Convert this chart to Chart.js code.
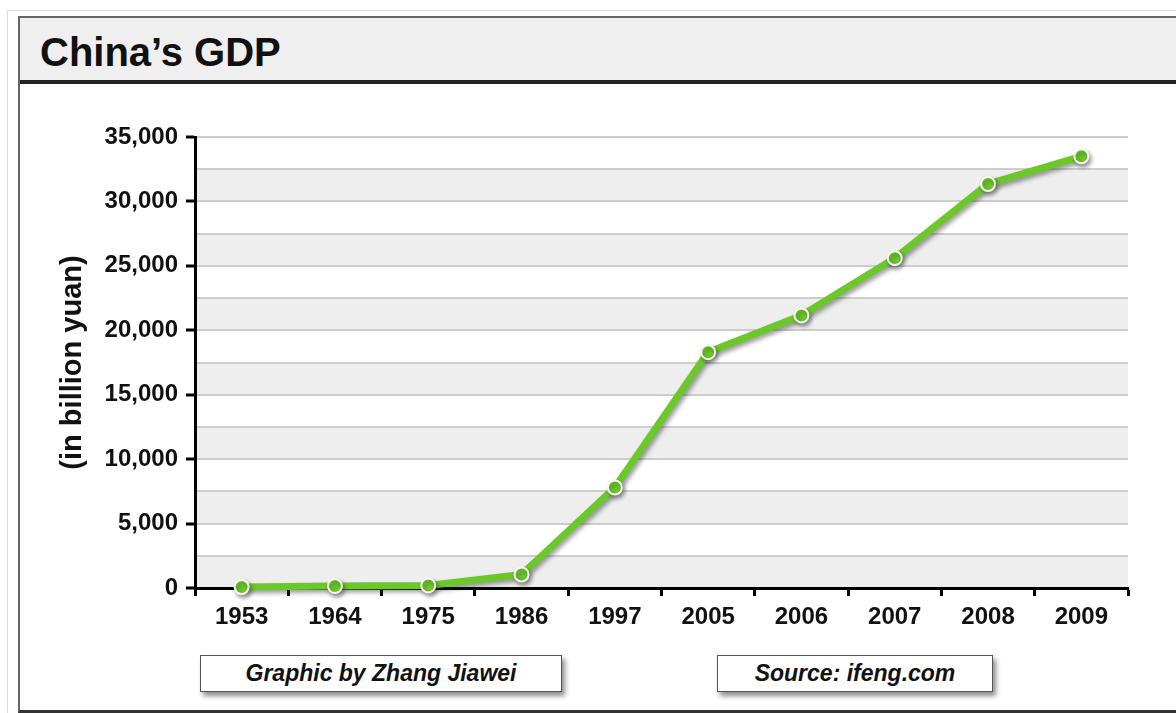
<!DOCTYPE html>
<html>
<head>
<meta charset="utf-8">
<title>China's GDP</title>
<script src="https://cdn.jsdelivr.net/npm/chart.js@4.4.1/dist/chart.umd.min.js"></script>
<style>
    html, body { margin: 0; padding: 0; background: #fff; }
    body { width: 1176px; height: 713px; position: relative; overflow: hidden; font-family: 'Liberation Sans', Arial, sans-serif; }
    .outer { position: absolute; left: 7px; top: 10px; width: 1200px; height: 720px; border-left: 1px solid #dcdcdc; border-top: 1px solid #dcdcdc; }
    .frame { position: absolute; left: 18px; top: 16px; width: 1200px; height: 692px; border-left: 2px solid #666; border-top: 2px solid #666; border-bottom: 3px solid #333; }
    .title-bar { position: absolute; left: 20px; top: 18px; width: 1200px; height: 62px; background: #efefef; border-bottom: 4px solid #222; }
    .title-bar h1 { margin: 0; position: absolute; left: 20px; top: 12px; font-size: 40px; font-weight: bold; color: #111; }
    .note { position: absolute; top: 655px; height: 35px; line-height: 35px; background: #fff; border: 1px solid #555; box-shadow: 3px 4px 5px rgba(0,0,0,0.45); text-align: center; font-size: 23px; font-weight: bold; font-style: italic; color: #111; }
    #chart-gdp { position: absolute; left: 0; top: 0; }
</style>
</head>
<body>
<div class="outer"></div>
<div class="frame"></div>
<div class="title-bar"><h1>China’s GDP</h1></div>
<div class="note" style="left:200px; width:360px;">Graphic by Zhang Jiawei</div>
<div class="note" style="left:717px; width:274px;">Source: ifeng.com</div>
<canvas id="chart-gdp" width="1176" height="713"></canvas>
<script>
'use strict';
// GDP by year, billion yuan
var years = ['1953', '1964', '1975', '1986', '1997', '2005', '2006', '2007', '2008', '2009'];
var gdp = [80, 150, 200, 1050, 7800, 18300, 21150, 25600, 31350, 33500];
var yMax = 35000;
var yStep = 2500;
var yLabelStep = 5000;

Chart.defaults.font.family = "'Liberation Sans', Arial, sans-serif";
Chart.defaults.color = '#111';

// grey band just above each labelled grid line
var bands = {
    id: 'bands',
    beforeDraw: function(chart) {
        var ctx = chart.ctx;
        var area = chart.chartArea;
        var y = chart.scales.y;
        ctx.save();
        ctx.fillStyle = '#eeeeee';
        for (var v = 0; v < yMax; v += yLabelStep) {
            var top = y.getPixelForValue(v + yStep);
            var bottom = y.getPixelForValue(v);
            ctx.fillRect(area.left, top, area.right - area.left, bottom - top);
        }
        ctx.restore();
    }
};

// soft drop shadow under the line and points
var lineShadow = {
    id: 'lineShadow',
    beforeDatasetsDraw: function(chart) {
        var ctx = chart.ctx;
        ctx.save();
        ctx.shadowColor = 'rgba(40, 40, 40, 0.45)';
        ctx.shadowOffsetX = 2;
        ctx.shadowOffsetY = 3;
        ctx.shadowBlur = 4;
    },
    afterDatasetsDraw: function(chart) {
        chart.ctx.restore();
    }
};

// [ line-chart ] start
var line = document.getElementById('chart-gdp').getContext('2d');
var myLineChart = new Chart(line, {
    type: 'line',
    data: {
        labels: years,
        datasets: [{
            label: 'GDP',
            data: gdp,
            borderColor: '#6cc82a',
            borderWidth: 7,
            tension: 0,
            clip: false,
            pointRadius: 7,
            pointBackgroundColor: '#6cc82a',
            pointBorderColor: '#f6fcef',
            pointBorderWidth: 2,
            pointHoverRadius: 7
        }]
    },
    options: {
        responsive: false,
        animation: false,
        layout: {
            padding: { top: 137, right: 48, bottom: 0, left: 0 }
        },
        plugins: {
            legend: { display: false },
            tooltip: { enabled: false }
        },
        scales: {
            x: {
                offset: true,
                afterFit: function(scale) { scale.height = 125; },
                border: { color: '#000', width: 3 },
                grid: {
                    offset: true,
                    drawOnChartArea: false,
                    drawTicks: true,
                    tickLength: 8,
                    tickWidth: 3,
                    tickColor: '#000'
                },
                ticks: {
                    padding: 7,
                    color: '#111',
                    font: { size: 24, weight: 'bold' },
                    maxRotation: 0
                }
            },
            y: {
                min: 0,
                max: yMax,
                afterFit: function(scale) { scale.width = 195; },
                border: { color: '#000', width: 3 },
                grid: {
                    color: '#cdcdcd',
                    lineWidth: 2,
                    tickLength: 9,
                    tickWidth: 3,
                    tickColor: function(ctx) {
                        return ctx.tick && ctx.tick.value % yLabelStep === 0 ? '#000' : 'rgba(0,0,0,0)';
                    }
                },
                ticks: {
                    stepSize: yStep,
                    autoSkip: false,
                    padding: 8,
                    color: '#111',
                    font: { size: 24, weight: 'bold' },
                    callback: function(value) {
                        return value % yLabelStep === 0 ? value.toLocaleString('en-US') : '';
                    }
                },
                title: {
                    display: true,
                    text: '(in billion yuan)',
                    color: '#111',
                    font: { size: 29, weight: 'bold' },
                    padding: { top: 56, bottom: 0 }
                }
            }
        }
    },
    plugins: [bands, lineShadow]
});
// [ line-chart ] end
</script>
</body>
</html>
